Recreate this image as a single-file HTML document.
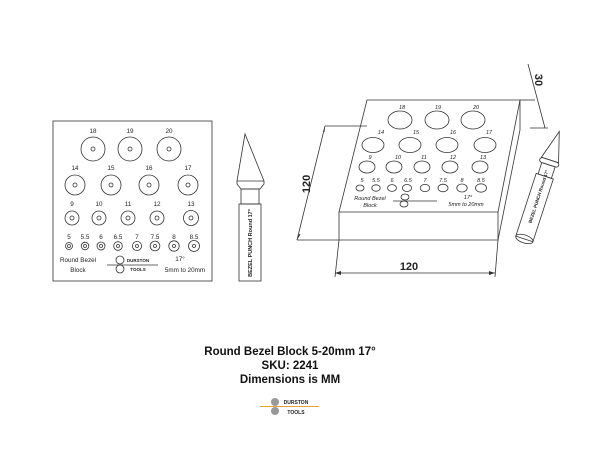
<!DOCTYPE html>
<html><head><meta charset="utf-8"><style>
html,body{margin:0;padding:0;background:#fff;}
svg{display:block;font-family:"Liberation Sans",sans-serif;}
</style></head><body>
<svg width="600" height="450" viewBox="0 0 600 450" xmlns="http://www.w3.org/2000/svg">
<rect width="600" height="450" fill="#fff"/>
<g stroke="#333" stroke-width="0.8" fill="none">
<rect x="53" y="121" width="159" height="160"/>
<circle cx="93" cy="149" r="12"/><circle cx="93" cy="149" r="2"/>
<circle cx="130" cy="149" r="12"/><circle cx="130" cy="149" r="2"/>
<circle cx="169" cy="149" r="12"/><circle cx="169" cy="149" r="2"/>
<circle cx="75" cy="185" r="10"/><circle cx="75" cy="185" r="2"/>
<circle cx="111" cy="185" r="10"/><circle cx="111" cy="185" r="2"/>
<circle cx="149" cy="185" r="10"/><circle cx="149" cy="185" r="2"/>
<circle cx="188" cy="185" r="10"/><circle cx="188" cy="185" r="2"/>
<circle cx="72" cy="218" r="7"/><circle cx="72" cy="218" r="2"/>
<circle cx="99" cy="218" r="7"/><circle cx="99" cy="218" r="2"/>
<circle cx="128" cy="218" r="7"/><circle cx="128" cy="218" r="2"/>
<circle cx="157" cy="218" r="7"/><circle cx="157" cy="218" r="2"/>
<circle cx="191" cy="218" r="7.5"/><circle cx="191" cy="218" r="2"/>
<circle cx="69" cy="246" r="3.5"/><circle cx="69" cy="246" r="1.5"/>
<circle cx="85" cy="246" r="3.8"/><circle cx="85" cy="246" r="1.5"/>
<circle cx="101" cy="246" r="4"/><circle cx="101" cy="246" r="1.5"/>
<circle cx="118" cy="246" r="4.3"/><circle cx="118" cy="246" r="1.5"/>
<circle cx="137" cy="246" r="4.6"/><circle cx="137" cy="246" r="1.5"/>
<circle cx="155" cy="246" r="4.9"/><circle cx="155" cy="246" r="1.5"/>
<circle cx="174" cy="246" r="5.2"/><circle cx="174" cy="246" r="1.5"/>
<circle cx="194" cy="246" r="5.5"/><circle cx="194" cy="246" r="1.5"/>
<circle cx="120" cy="260" r="4"/><circle cx="120" cy="269" r="4"/>
<line x1="107" y1="265" x2="158" y2="265"/>
<path d="M245,134 L237,181 L264,181 Z"/>
<path d="M237,181 L237,184 L241,189 L260,189 L264,184 L264,181"/>
<rect x="241" y="189" width="18" height="15"/>
<rect x="239" y="204" width="22" height="77"/>
<path d="M367,100 L520,100 L498,212 L339,212 Z"/>
<path d="M339,212 L339,240 L498,240 L498,212"/>
<path d="M520,100 L520,130 L498,240"/>
<ellipse cx="400" cy="120" rx="12" ry="9"/><ellipse cx="437" cy="120" rx="12" ry="9"/><ellipse cx="473" cy="120" rx="12" ry="9"/>
<ellipse cx="373" cy="145" rx="11" ry="7.5"/><ellipse cx="410" cy="145" rx="11" ry="7.5"/><ellipse cx="447" cy="145" rx="11" ry="7.5"/><ellipse cx="485" cy="145" rx="11" ry="7.5"/>
<ellipse cx="367" cy="167" rx="8" ry="6"/><ellipse cx="394" cy="167" rx="8" ry="6"/><ellipse cx="422" cy="167" rx="8" ry="6"/><ellipse cx="450" cy="167" rx="8" ry="6"/><ellipse cx="480" cy="167" rx="8" ry="6"/>
<ellipse cx="360" cy="188" rx="4" ry="3"/><ellipse cx="376" cy="188" rx="4.2" ry="3.2"/><ellipse cx="392" cy="188" rx="4.4" ry="3.4"/><ellipse cx="407" cy="188" rx="4.6" ry="3.5"/><ellipse cx="425" cy="188" rx="4.8" ry="3.6"/><ellipse cx="443" cy="188" rx="5" ry="3.8"/><ellipse cx="462" cy="188" rx="5.2" ry="4"/><ellipse cx="481" cy="188" rx="5.5" ry="4.2"/>
<ellipse cx="405" cy="197" rx="4" ry="3"/><ellipse cx="404" cy="204" rx="4" ry="3"/>
<line x1="393" y1="201" x2="437" y2="201"/>
<line x1="325" y1="126" x2="367" y2="126"/>
<line x1="297" y1="240" x2="339" y2="240"/>
<line x1="325" y1="126" x2="297" y2="240"/>
<line x1="339" y1="240" x2="335" y2="277"/>
<line x1="498" y1="240" x2="495" y2="277"/>
<line x1="335" y1="273" x2="495" y2="273"/>
<line x1="520" y1="100" x2="535" y2="100"/>
<line x1="528" y1="64" x2="545" y2="128"/>
<line x1="530" y1="128" x2="548" y2="128"/>
<g transform="translate(550,160) rotate(18)">
<path d="M0,-30 L-9,0 L9,0 Z"/>
<rect x="-10" y="0" width="20" height="5" rx="3"/>
<rect x="-7" y="5" width="14" height="12"/>
<rect x="-9" y="17" width="18" height="66"/>
<ellipse cx="0" cy="83" rx="9" ry="4"/>
</g>
</g>
<g fill="#333" stroke="none">
<path d="M297,240 l2,-6 l1.5,0.4 Z"/><path d="M325,126 l-0.4,6 l-1.5,-0.4 Z"/>
<path d="M335,273 l6,-2 l0,4 Z"/><path d="M495,273 l-6,-2 l0,4 Z"/>
</g>
<g font-size="6.3" fill="#222" text-anchor="middle">
<text x="93" y="133">18</text><text x="130" y="133">19</text><text x="169" y="133">20</text>
<text x="75" y="170">14</text><text x="111" y="170">15</text><text x="149" y="170">16</text><text x="188" y="170">17</text>
<text x="72" y="206">9</text><text x="99" y="206">10</text><text x="128" y="206">11</text><text x="157" y="206">12</text><text x="191" y="206">13</text>
<text x="69" y="239">5</text><text x="85" y="239">5.5</text><text x="101" y="239">6</text><text x="118" y="239">6.5</text><text x="137" y="239">7</text><text x="155" y="239">7.5</text><text x="174" y="239">8</text><text x="194" y="239">8.5</text>
<text x="78" y="262">Round Bezel</text><text x="78" y="272">Block</text>
<text x="180" y="261">17°</text><text x="185" y="272">5mm to 20mm</text>
<text x="138" y="262" font-size="4.5" font-weight="bold">DURSTON</text><text x="138" y="271" font-size="4.5" font-weight="bold">TOOLS</text>
<text transform="translate(252,243) rotate(-90)" font-size="5.5" font-weight="bold">BEZEL PUNCH Round 17°</text>
<g font-style="italic" font-size="5.5">
<text x="402" y="109">18</text><text x="438" y="109">19</text><text x="476" y="109">20</text>
<text x="381" y="134">14</text><text x="416" y="134">15</text><text x="453" y="134">16</text><text x="489" y="134">17</text>
<text x="370" y="159">9</text><text x="398" y="159">10</text><text x="424" y="159">11</text><text x="453" y="159">12</text><text x="483" y="159">13</text>
<text x="362" y="182">5</text><text x="376" y="182">5.5</text><text x="392" y="182">6</text><text x="408" y="182">6.5</text><text x="425" y="182">7</text><text x="443" y="182">7.5</text><text x="462" y="182">8</text><text x="481" y="182">8.5</text>
<text x="370" y="200">Round Bezel</text><text x="370" y="207">Block</text>
<text x="468" y="199">17°</text><text x="466" y="206">5mm to 20mm</text>
</g>
<text transform="translate(540,197) rotate(-72)" font-size="4.5" font-weight="bold">BEZEL PUNCH Round 17°</text>
<text x="409" y="270" font-size="11" font-weight="bold">120</text>
<text transform="translate(310,184) rotate(-90)" font-size="11" font-weight="bold">120</text>
<text transform="translate(535,80) rotate(90)" font-size="11" font-weight="bold">30</text>
<g font-size="11.5" font-weight="bold" fill="#111">
<text x="290" y="355">Round Bezel Block 5-20mm 17°</text>
<text x="290" y="369">SKU: 2241</text>
<text x="290" y="383">Dimensions is MM</text>
</g>
</g>
<circle cx="275" cy="402" r="4" fill="#999"/><circle cx="275" cy="411" r="4" fill="#999"/>
<line x1="260" y1="406.5" x2="319" y2="406.5" stroke="#e6a532" stroke-width="1"/>
<text x="296" y="404" font-size="5" font-weight="bold" text-anchor="middle" fill="#222">DURSTON</text>
<text x="296" y="414" font-size="5" font-weight="bold" text-anchor="middle" fill="#222">TOOLS</text>
</svg>
</body></html>
